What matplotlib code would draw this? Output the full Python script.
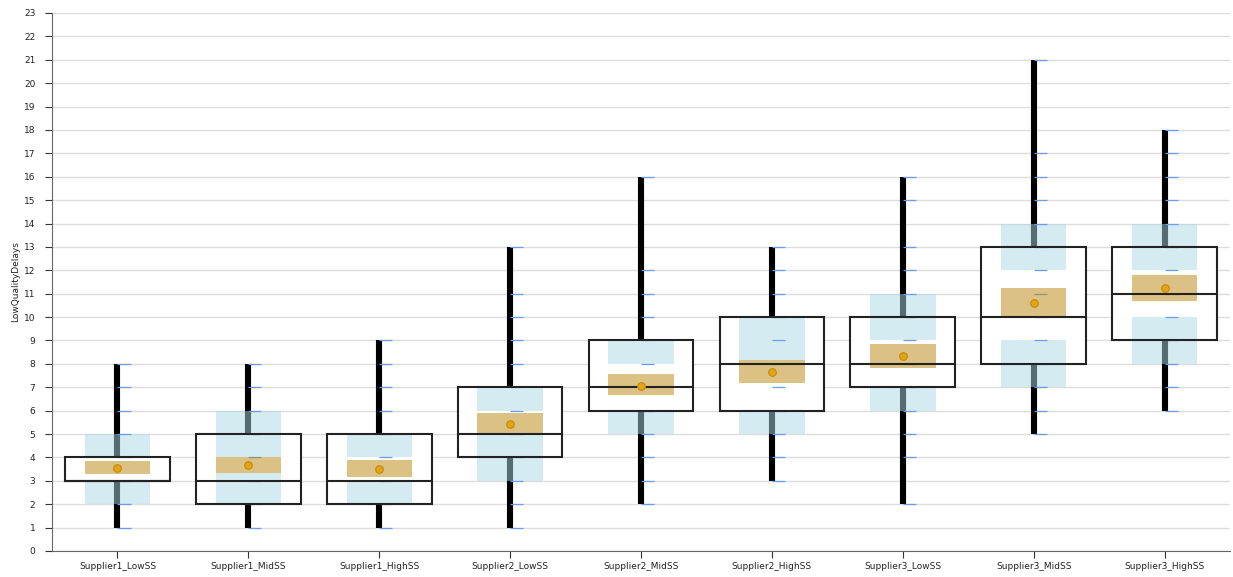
import matplotlib
matplotlib.use("Agg")
import matplotlib.pyplot as plt
import numpy as np

# Scenario labels
categories = ["Supplier1_LowSS", "Supplier1_MidSS", "Supplier1_HighSS",
              "Supplier2_LowSS", "Supplier2_MidSS", "Supplier2_HighSS",
              "Supplier3_LowSS", "Supplier3_MidSS", "Supplier3_HighSS"]

# Five-number summaries
mins    = [1, 1, 1, 1, 2, 3, 2, 5, 6]
q1s     = [3, 2, 2, 4, 6, 6, 7, 8, 9]
medians = [3, 3, 3, 5, 7, 8, 8, 10, 11]
q3s     = [4, 5, 5, 7, 9, 10, 10, 13, 13]
maxs    = [8, 8, 9, 13, 16, 13, 16, 21, 18]

# Means and their interval
means   = [3.56, 3.66, 3.52, 5.43, 7.07, 7.64, 8.33, 10.6, 11.24]
mean_lo = [3.29, 3.35, 3.18, 5.06, 6.65, 7.20, 7.82, 10.0, 10.68]
mean_hi = [3.86, 4.00, 3.89, 5.88, 7.55, 8.16, 8.85, 11.23, 11.82]

# Quartile intervals (lower and upper bands)
low_band_lo  = [2, 2, 2, 3, 5, 5, 6, 7, 8]
low_band_hi  = [3, 4, 3, 5, 6, 6, 7, 9, 10]
high_band_lo = [4, 4, 4, 6, 8, 8, 9, 12, 12]
high_band_hi = [5, 6, 5, 7, 9, 10, 11, 14, 14]

# Distinct observed values per scenario
observed = [
    [1, 2, 3, 4, 5, 6, 7, 8],
    [1, 2, 3, 4, 5, 6, 7, 8],
    [1, 2, 3, 4, 5, 6, 7, 8, 9],
    [1, 2, 3, 4, 5, 6, 7, 8, 9, 10, 11, 13],
    [2, 3, 4, 5, 6, 7, 8, 9, 10, 11, 12, 16],
    [3, 4, 5, 6, 7, 8, 9, 10, 11, 12, 13],
    [2, 4, 5, 6, 7, 8, 9, 10, 11, 12, 13, 15, 16],
    [5, 6, 7, 8, 9, 10, 11, 12, 13, 14, 15, 16, 17, 21],
    [6, 7, 8, 9, 10, 11, 12, 13, 14, 15, 16, 17, 18],
]

y_ticks = list(range(0, 24))

fig = plt.figure(figsize=(12.33, 5.77), dpi=100)
ax = fig.add_axes([52 / 1233, 26 / 577, (1230 - 52) / 1233, (551 - 13) / 577])

x = np.arange(len(categories))

ax.set_axisbelow(True)
ax.yaxis.grid(True, color="#dddddd", linewidth=1.0)

# whiskers (min to max)
ax.vlines(x, mins, maxs, color="black", linewidth=4.4, zorder=2)

# box fill hides the whisker between the quartiles
q1 = np.array(q1s, float)
q3 = np.array(q3s, float)
ax.bar(x, q3 - q1, bottom=q1, width=0.8, color="white", edgecolor="none", zorder=3)

# quartile interval bands
lb_lo = np.array(low_band_lo, float); lb_hi = np.array(low_band_hi, float)
hb_lo = np.array(high_band_lo, float); hb_hi = np.array(high_band_hi, float)
ax.bar(x, lb_hi - lb_lo, bottom=lb_lo, width=0.5, color="lightblue", alpha=0.5,
       edgecolor="none", zorder=4)
ax.bar(x, hb_hi - hb_lo, bottom=hb_lo, width=0.5, color="lightblue", alpha=0.5,
       edgecolor="none", zorder=4)

# mean interval on an opaque base
m_lo = np.array(mean_lo, float); m_hi = np.array(mean_hi, float)
ax.bar(x, m_hi - m_lo, bottom=m_lo, width=0.5, color="white",
       edgecolor="none", zorder=4.5)

# rug of observed values
for xi, vals in zip(x, observed):
    ax.hlines(vals, xi, xi + 0.1, color="#6c9cec", linewidth=0.9, zorder=4.7)

ax.bar(x, m_hi - m_lo, bottom=m_lo, width=0.5, color="darkgoldenrod", alpha=0.5,
       edgecolor="none", zorder=5)

# box outline and median
ax.bar(x, q3 - q1, bottom=q1, width=0.8, facecolor="none", edgecolor="#222222",
       linewidth=1.5, zorder=6)
ax.hlines(medians, x - 0.4, x + 0.4, color="#222222", linewidth=1.5, zorder=6)

# means
ax.plot(x, means, linestyle="none", marker="o", markersize=5.5,
        markerfacecolor="#e4a414", markeredgecolor="#c08a10", markeredgewidth=0.8,
        zorder=7)

ax.set_xlim(-0.5, len(categories) - 0.5)
ax.set_ylim(0, 23)
ax.set_yticks(y_ticks)
ax.set_yticklabels([str(t) for t in y_ticks])
ax.set_xticks(x)
ax.set_xticklabels(categories)

ax.tick_params(axis="both", labelsize=6.5, colors="#333333", length=5, width=0.8)
ax.tick_params(axis="y", pad=7)
ax.tick_params(axis="x", pad=3)
for lbl in ax.get_xticklabels() + ax.get_yticklabels():
    lbl.set_color("#222222")

ax.spines["top"].set_visible(False)
ax.spines["right"].set_visible(False)
ax.spines["left"].set_color("#666666")
ax.spines["bottom"].set_color("#666666")

ax.set_ylabel("LowQualityDelays", fontsize=6.5, color="#222222", labelpad=2)
ax.yaxis.set_label_coords(-32 / 1178, 0.5)

fig.savefig("out.png", dpi=100)
